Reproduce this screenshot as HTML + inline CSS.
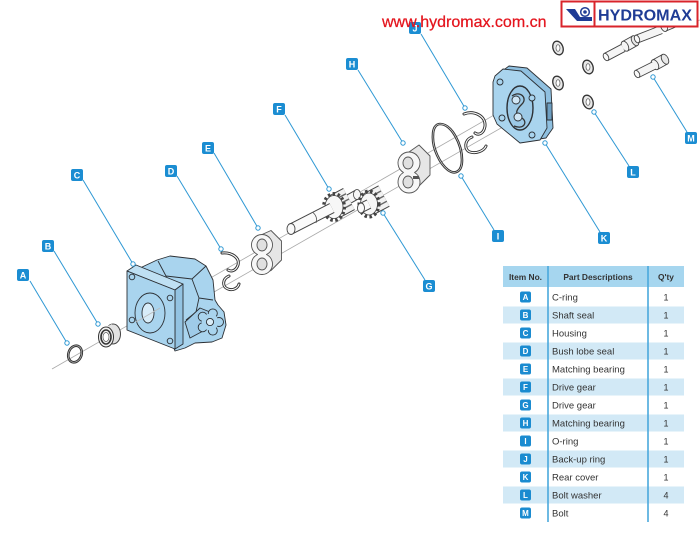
<!DOCTYPE html>
<html><head><meta charset="utf-8"><style>
html,body{margin:0;padding:0;background:#fff;}
svg{display:block;}
text{font-family:"Liberation Sans",Arial,sans-serif;}
</style></head><body>
<svg width="700" height="534" viewBox="0 0 700 534" xmlns="http://www.w3.org/2000/svg">
<rect width="700" height="534" fill="#fff"/>

<!-- axis lines -->
<g stroke="#a9a9a9" stroke-width="0.8" fill="none">
<line x1="52" y1="369" x2="522" y2="99"/>
<line x1="200" y1="300" x2="522" y2="116"/>
</g>

<!-- A C-ring -->
<ellipse cx="75" cy="354" rx="6.5" ry="8.5" transform="rotate(20 75 354)" fill="none" stroke="#333" stroke-width="2.6"/>
<ellipse cx="75" cy="354" rx="6.5" ry="8.5" transform="rotate(20 75 354)" fill="none" stroke="#bbb" stroke-width="0.7"/>

<!-- B shaft seal -->
<ellipse cx="113" cy="334" rx="7.5" ry="10" fill="#e2e2e2" stroke="#444" stroke-width="1"/>
<polygon points="106,327 112,324 112,344 106,347" fill="#e2e2e2"/>
<ellipse cx="106" cy="337" rx="7.5" ry="10" fill="#f2f2f2" stroke="#333" stroke-width="1"/>
<ellipse cx="106" cy="337" rx="5" ry="7" fill="none" stroke="#333" stroke-width="1.6"/>
<ellipse cx="106" cy="337" rx="3" ry="4.5" fill="#fff" stroke="#555" stroke-width="0.7"/>

<!-- C housing body -->
<g stroke="#2c3035" stroke-width="0.9" stroke-linejoin="round">
<polygon points="140,268 157,260 170,256 195,259 206,266 213,280 215,300 218,305 224,312 226,325 222,338 212,342 195,343 185,348 175,351" fill="#a9d4ee"/>
<polyline points="158,261 166,276 192,279 206,266" fill="none"/>
<polyline points="192,279 199,298 213,300" fill="none"/>
<polyline points="166,276 172,290" fill="none"/>
<polyline points="199,298 196,312 186,320" fill="none"/>
<polygon points="185,322 200,308 210,312 205,330 190,338" fill="#9fcbe8"/>
<circle cx="219" cy="322" r="4.5" fill="#a9d4ee"/>
<circle cx="212.8" cy="330.6" r="4.5" fill="#a9d4ee"/>
<circle cx="202.7" cy="327.3" r="4.5" fill="#a9d4ee"/>
<circle cx="202.7" cy="316.7" r="4.5" fill="#a9d4ee"/>
<circle cx="212.8" cy="313.4" r="4.5" fill="#a9d4ee"/>
<circle cx="210" cy="322" r="8.3" fill="#a9d4ee" stroke="none"/>
<circle cx="210" cy="322" r="3.6" fill="#d8ecf8"/>
<polygon points="127,271 136,265 183,284 175,290" fill="#bfe0f3"/>
<polygon points="175,290 183,284 183,344 175,349" fill="#93c3e2"/>
<polygon points="127,271 175,290 175,349 127,330" fill="#a9d4ee"/>
<circle cx="132" cy="277" r="2.8" fill="#a9d4ee"/>
<circle cx="170" cy="298" r="2.8" fill="#a9d4ee"/>
<circle cx="132" cy="320" r="2.8" fill="#a9d4ee"/>
<circle cx="170" cy="341" r="2.8" fill="#a9d4ee"/>
<ellipse cx="150" cy="313" rx="15" ry="20" fill="#a9d4ee"/>
<ellipse cx="148" cy="313" rx="6" ry="10" fill="#d8ecf8"/>
</g>
<line x1="136" y1="322" x2="160" y2="308" stroke="#bbb" stroke-width="0.8"/>

<!-- D bush lobe seal -->
<g fill="none" stroke-linecap="round">
<path d="M222,253 C232,252 240,258 238,265 C236,271 231,272 228,270" stroke="#333" stroke-width="3"/>
<path d="M229,276 C222,279 222,287 228,289 C233,291 238,288 239,284" stroke="#333" stroke-width="3"/>
<path d="M222,253 C232,252 240,258 238,265 C236,271 231,272 228,270" stroke="#fff" stroke-width="1.1"/>
<path d="M229,276 C222,279 222,287 228,289 C233,291 238,288 239,284" stroke="#fff" stroke-width="1.1"/>
</g>

<!-- E matching bearing -->
<g stroke="#555" stroke-width="0.9" stroke-linejoin="round">
<polygon points="262,234.5 271,230.5 281.5,241 281.5,260 271,270.5 262,274.5" fill="#e6e6e6"/>
<path d="M257.53,254.5 A10.5,10.5 0 1,1 266.47,254.5 A10.5,10.5 0 1,1 257.53,254.5 Z" fill="#f7f7f7"/>
<ellipse cx="262" cy="245" rx="5" ry="6" fill="#e0e0e0"/>
<ellipse cx="262" cy="264" rx="5" ry="6" fill="#e0e0e0"/>
</g>

<!-- F drive gear -->
<line x1="349" y1="199" x2="357" y2="194.5" stroke="#444" stroke-width="10"/>
<line x1="349" y1="199" x2="357" y2="194.5" stroke="#f6f6f6" stroke-width="8"/>
<ellipse cx="357" cy="194.5" rx="3.5" ry="5" fill="#f6f6f6" stroke="#444" stroke-width="0.8"/>
<line x1="334" y1="207" x2="349" y2="199" stroke="#444" stroke-width="25"/>
<line x1="334" y1="207" x2="349" y2="199" stroke="#f2f2f2" stroke-width="23"/>
<g stroke="#666" stroke-width="1.4">
<line x1="331" y1="201.7" x2="346" y2="193.7"/>
<line x1="334" y1="207" x2="349" y2="199"/>
<line x1="336.8" y1="212.3" x2="351.8" y2="204.3"/>
</g>
<ellipse cx="334" cy="207" rx="10" ry="13" fill="none" stroke="#444" stroke-width="4" stroke-dasharray="2.4 2.4"/>
<ellipse cx="334" cy="207" rx="9" ry="11.5" fill="#f7f7f7" stroke="#444" stroke-width="0.8"/>
<line x1="291" y1="229" x2="332" y2="208" stroke="#444" stroke-width="11"/>
<line x1="291" y1="229" x2="332" y2="208" stroke="#fafafa" stroke-width="9"/>
<path d="M313,212.5 Q318,217 316,223" fill="none" stroke="#555" stroke-width="0.8"/>
<ellipse cx="291" cy="229" rx="4" ry="5.5" fill="#fafafa" stroke="#444" stroke-width="0.9"/>

<!-- G drive gear -->
<line x1="369" y1="204" x2="384" y2="196" stroke="#444" stroke-width="24"/>
<line x1="369" y1="204" x2="384" y2="196" stroke="#f2f2f2" stroke-width="22"/>
<g stroke="#666" stroke-width="1.4">
<line x1="366" y1="199" x2="381" y2="191"/>
<line x1="369" y1="204" x2="384" y2="196"/>
<line x1="371.8" y1="209.3" x2="386.8" y2="201.3"/>
</g>
<ellipse cx="369" cy="204" rx="9.5" ry="12.5" fill="none" stroke="#444" stroke-width="4" stroke-dasharray="2.4 2.4"/>
<ellipse cx="369" cy="204" rx="8.5" ry="11" fill="#f7f7f7" stroke="#444" stroke-width="0.8"/>
<line x1="361" y1="208" x2="369" y2="204" stroke="#444" stroke-width="10"/>
<line x1="361" y1="208" x2="369" y2="204" stroke="#fafafa" stroke-width="8"/>
<ellipse cx="361" cy="208" rx="3.5" ry="5" fill="#fafafa" stroke="#444" stroke-width="0.9"/>

<!-- H matching bearing -->
<g stroke="#555" stroke-width="0.9" stroke-linejoin="round">
<polygon points="409,152 419,145 430,156 430,175 419,186 409,193" fill="#e6e6e6"/>
<path d="M403.45,172.5 A11,11 0 1,1 414.55,172.5 A11,11 0 1,1 403.45,172.5 Z" fill="#f7f7f7"/>
<ellipse cx="408" cy="163" rx="5" ry="6" fill="#e0e0e0"/>
<ellipse cx="408" cy="182" rx="5" ry="6" fill="#e0e0e0"/>
</g>
<rect x="413" y="176" width="6" height="3" fill="#555"/>

<!-- I O-ring -->
<path d="M440,124 C452,124 462,145 462,160 C462,172 455,175 448,170 C440,164 432,148 433,135 C433,128 436,124 440,124 Z" fill="none" stroke="#333" stroke-width="2.6"/>
<path d="M440,124 C452,124 462,145 462,160 C462,172 455,175 448,170 C440,164 432,148 433,135 C433,128 436,124 440,124 Z" fill="none" stroke="#ddd" stroke-width="0.7"/>

<!-- J back-up ring -->
<g fill="none" stroke-linecap="round">
<path d="M464,114 C474,110 486,116 485,126 C484,133 479,136 475,133" stroke="#333" stroke-width="3"/>
<path d="M472,137 C464,140 464,150 470,152 C476,154 484,151 486,146" stroke="#333" stroke-width="3"/>
<path d="M464,114 C474,110 486,116 485,126 C484,133 479,136 475,133" stroke="#fff" stroke-width="1.1"/>
<path d="M472,137 C464,140 464,150 470,152 C476,154 484,151 486,146" stroke="#fff" stroke-width="1.1"/>
</g>

<!-- K rear cover -->
<g stroke="#2c3035" stroke-width="0.9" stroke-linejoin="round">
<polygon points="501,72 509,66 527,68 551,89 553,128 546,138 526,141 503,121 499,112 499,79" fill="#8fc0e0"/>
<rect x="547" y="103" width="5" height="17" fill="#6d9fc2"/>
<polygon points="495,76 503,69 521,71 545,92 547,128 540,140 520,143 497,124 493,115 493,82" fill="#a9d4ee"/>
<ellipse cx="520" cy="108" rx="13" ry="22" fill="#9cc9e6" stroke-width="1.4"/>
<path d="M512,96 C520,90 528,98 522,104 C516,110 514,114 522,118 C528,122 524,130 514,126" fill="none" stroke="#333" stroke-width="1.3"/>
<circle cx="516" cy="100" r="4" fill="#cfe6f5"/>
<circle cx="518" cy="117" r="4" fill="#cfe6f5"/>
<circle cx="500" cy="82" r="3" fill="#a9d4ee"/>
<circle cx="502" cy="118" r="3" fill="#a9d4ee"/>
<circle cx="532" cy="135" r="3" fill="#a9d4ee"/>
<circle cx="532" cy="98" r="3" fill="#a9d4ee"/>
</g>

<!-- L washers -->
<g stroke="#333" stroke-width="1.3">
<ellipse cx="558" cy="48" rx="5" ry="7" transform="rotate(-20 558 48)" fill="#e8e8e8"/>
<ellipse cx="588" cy="67" rx="5" ry="7" transform="rotate(-20 588 67)" fill="#e8e8e8"/>
<ellipse cx="558" cy="83" rx="5" ry="7" transform="rotate(-20 558 83)" fill="#e8e8e8"/>
<ellipse cx="588" cy="102" rx="5" ry="7" transform="rotate(-20 588 102)" fill="#e8e8e8"/>
</g>
<g fill="#fff" stroke="#555" stroke-width="0.7">
<ellipse cx="558" cy="48" rx="2" ry="3.3"/>
<ellipse cx="588" cy="67" rx="2" ry="3.3"/>
<ellipse cx="558" cy="83" rx="2" ry="3.3"/>
<ellipse cx="588" cy="102" rx="2" ry="3.3"/>
</g>

<!-- M bolts (cylinders) -->
<g stroke="#444" stroke-width="0.9">
<!-- bolt 1 -->
<polygon points="622.5,41.5 632.5,36 637.5,45.5 627.5,51" fill="#f5f5f5"/>
<ellipse cx="635" cy="40.7" rx="3.2" ry="5.4" transform="rotate(-28 635 40.7)" fill="#e8e8e8"/>
<polygon points="604.2,53.5 621.2,44.5 624.8,51.5 607.8,60.5" fill="#f5f5f5"/>
<ellipse cx="625" cy="46.2" rx="3.2" ry="5.4" transform="rotate(-28 625 46.2)" fill="#f5f5f5"/>
<polygon points="604.2,53.5 621.2,44.5 624.8,51.5 607.8,60.5" fill="#f5f5f5" stroke="none"/>
<line x1="604.2" y1="53.5" x2="621.2" y2="44.5"/>
<line x1="607.8" y1="60.5" x2="624.8" y2="51.5"/>
<ellipse cx="606" cy="57" rx="2.4" ry="4" transform="rotate(-28 606 57)" fill="#fafafa"/>
<!-- bolt 2 -->
<polygon points="652.5,60 662.5,54.5 667.5,64 657.5,69.5" fill="#f5f5f5"/>
<ellipse cx="665" cy="59.2" rx="3.2" ry="5.4" transform="rotate(-28 665 59.2)" fill="#e8e8e8"/>
<ellipse cx="655" cy="64.7" rx="3.2" ry="5.4" transform="rotate(-28 655 64.7)" fill="#f5f5f5"/>
<polygon points="635.2,70.5 652.2,62 655.8,69 638.8,77.5" fill="#f5f5f5" stroke="none"/>
<line x1="635.2" y1="70.5" x2="652.2" y2="62"/>
<line x1="638.8" y1="77.5" x2="655.8" y2="69"/>
<ellipse cx="637" cy="74" rx="2.4" ry="4" transform="rotate(-28 637 74)" fill="#fafafa"/>
<!-- bolt 3 (partial) -->
<polygon points="662,22 674,17 678,26 666,31" fill="#f5f5f5"/>
<ellipse cx="664" cy="26.5" rx="3.2" ry="5.2" transform="rotate(-22 664 26.5)" fill="#f5f5f5"/>
<polygon points="635.5,35.3 659.5,26 662.5,33.5 638.5,42.7" fill="#f5f5f5" stroke="none"/>
<line x1="635.5" y1="35.3" x2="659.5" y2="26"/>
<line x1="638.5" y1="42.7" x2="662.5" y2="33.5"/>
<ellipse cx="637" cy="39" rx="2.4" ry="4" transform="rotate(-22 637 39)" fill="#fafafa"/>
</g>
<line x1="676" y1="27" x2="700" y2="20" stroke="#aaa" stroke-width="0.8"/>

<!-- leader lines -->
<g stroke="#2e98d4" stroke-width="1" fill="none">
<line x1="30" y1="281" x2="67" y2="343"/>
<line x1="54" y1="251" x2="98" y2="324"/>
<line x1="83" y1="180" x2="133" y2="264"/>
<line x1="177" y1="176" x2="221" y2="249"/>
<line x1="214" y1="153" x2="258" y2="228"/>
<line x1="285" y1="115" x2="329" y2="189"/>
<line x1="383" y1="213" x2="425" y2="280"/>
<line x1="358" y1="70" x2="403" y2="143"/>
<line x1="461" y1="176" x2="494" y2="230"/>
<line x1="421" y1="34" x2="465" y2="108"/>
<line x1="545" y1="143" x2="600" y2="232"/>
<line x1="594" y1="112" x2="629" y2="166"/>
<line x1="653" y1="77" x2="687" y2="132"/>
</g>
<g fill="#fff" stroke="#2e98d4" stroke-width="1">
<circle cx="67" cy="343" r="2.2"/>
<circle cx="98" cy="324" r="2.2"/>
<circle cx="133" cy="264" r="2.2"/>
<circle cx="221" cy="249" r="2.2"/>
<circle cx="258" cy="228" r="2.2"/>
<circle cx="329" cy="189" r="2.2"/>
<circle cx="383" cy="213" r="2.2"/>
<circle cx="403" cy="143" r="2.2"/>
<circle cx="461" cy="176" r="2.2"/>
<circle cx="465" cy="108" r="2.2"/>
<circle cx="545" cy="143" r="2.2"/>
<circle cx="594" cy="112" r="2.2"/>
<circle cx="653" cy="77" r="2.2"/>
</g>

<!-- badges -->
<g fill="#1b8dd2">
<rect x="17" y="269" width="12" height="12" rx="2"/>
<rect x="42" y="240" width="12" height="12" rx="2"/>
<rect x="71" y="169" width="12" height="12" rx="2"/>
<rect x="165" y="165" width="12" height="12" rx="2"/>
<rect x="202" y="142" width="12" height="12" rx="2"/>
<rect x="273" y="103" width="12" height="12" rx="2"/>
<rect x="423" y="280" width="12" height="12" rx="2"/>
<rect x="346" y="58" width="12" height="12" rx="2"/>
<rect x="492" y="230" width="12" height="12" rx="2"/>
<rect x="409" y="22" width="12" height="12" rx="2"/>
<rect x="598" y="232" width="12" height="12" rx="2"/>
<rect x="627" y="166" width="12" height="12" rx="2"/>
<rect x="685" y="132" width="12" height="12" rx="2"/>
</g>
<g fill="#fff" font-size="9" font-weight="bold" text-anchor="middle">
<text x="23" y="278.3">A</text>
<text x="48" y="249.3">B</text>
<text x="77" y="178.3">C</text>
<text x="171" y="174.3">D</text>
<text x="208" y="151.3">E</text>
<text x="279" y="112.3">F</text>
<text x="429" y="289.3">G</text>
<text x="352" y="67.3">H</text>
<text x="498" y="239.3">I</text>
<text x="415" y="31.3">J</text>
<text x="604" y="241.3">K</text>
<text x="633" y="175.3">L</text>
<text x="691" y="141.3">M</text>
</g>

<!-- url -->
<text x="382" y="27" font-size="16" fill="#e4141d" stroke="#e4141d" stroke-width="0.25">www.hydromax.com.cn</text>

<!-- logo -->
<rect x="561.5" y="1.5" width="136" height="25" fill="#fff" stroke="#d9242b" stroke-width="2"/>
<line x1="594.5" y1="1.5" x2="594.5" y2="26.5" stroke="#d9242b" stroke-width="2"/>
<polygon points="566,9 575,9 580,17 592,17 592,21 577,21" fill="#1f3c95"/>
<circle cx="585" cy="12" r="4.3" fill="#fff" stroke="#1f3c95" stroke-width="1.5"/>
<circle cx="585" cy="12" r="1.8" fill="#1f3c95"/>
<text x="598" y="20.5" font-size="16" font-weight="bold" fill="#1f3c95" textLength="94" lengthAdjust="spacingAndGlyphs">HYDROMAX</text>

<!-- table -->
<rect x="503" y="266" width="181" height="21" fill="#a6d6ef"/>
<g fill="#d2e9f6">
<rect x="503" y="306.5" width="181" height="17"/>
<rect x="503" y="342.5" width="181" height="17"/>
<rect x="503" y="378.5" width="181" height="17"/>
<rect x="503" y="414.5" width="181" height="17"/>
<rect x="503" y="450.5" width="181" height="17"/>
<rect x="503" y="486.5" width="181" height="17"/>
</g>
<line x1="548" y1="266" x2="548" y2="522" stroke="#4aa8dc" stroke-width="1.6"/>
<line x1="648" y1="266" x2="648" y2="522" stroke="#4aa8dc" stroke-width="1.6"/>
<g font-weight="bold" fill="#333" font-size="8.4" text-anchor="middle">
<text x="525.5" y="280">Item No.</text>
<text x="598" y="280">Part Descriptions</text>
<text x="666" y="280">Q'ty</text>
</g>
<g fill="#1a8bd0">
<rect x="520" y="291.5" width="11" height="11" rx="2"/>
<rect x="520" y="309.5" width="11" height="11" rx="2"/>
<rect x="520" y="327.5" width="11" height="11" rx="2"/>
<rect x="520" y="345.5" width="11" height="11" rx="2"/>
<rect x="520" y="363.5" width="11" height="11" rx="2"/>
<rect x="520" y="381.5" width="11" height="11" rx="2"/>
<rect x="520" y="399.5" width="11" height="11" rx="2"/>
<rect x="520" y="417.5" width="11" height="11" rx="2"/>
<rect x="520" y="435.5" width="11" height="11" rx="2"/>
<rect x="520" y="453.5" width="11" height="11" rx="2"/>
<rect x="520" y="471.5" width="11" height="11" rx="2"/>
<rect x="520" y="489.5" width="11" height="11" rx="2"/>
<rect x="520" y="507.5" width="11" height="11" rx="2"/>
</g>
<g fill="#fff" font-size="8" font-weight="bold" text-anchor="middle">
<text x="525.5" y="300">A</text>
<text x="525.5" y="318">B</text>
<text x="525.5" y="336">C</text>
<text x="525.5" y="354">D</text>
<text x="525.5" y="372">E</text>
<text x="525.5" y="390">F</text>
<text x="525.5" y="408">G</text>
<text x="525.5" y="426">H</text>
<text x="525.5" y="444">I</text>
<text x="525.5" y="462">J</text>
<text x="525.5" y="480">K</text>
<text x="525.5" y="498">L</text>
<text x="525.5" y="516">M</text>
</g>
<g fill="#333" font-size="9.5">
<text x="552" y="300.4">C-ring</text>
<text x="552" y="318.4">Shaft seal</text>
<text x="552" y="336.4">Housing</text>
<text x="552" y="354.4">Bush lobe seal</text>
<text x="552" y="372.4">Matching bearing</text>
<text x="552" y="390.4">Drive gear</text>
<text x="552" y="408.4">Drive gear</text>
<text x="552" y="426.4">Matching bearing</text>
<text x="552" y="444.4">O-ring</text>
<text x="552" y="462.4">Back-up ring</text>
<text x="552" y="480.4">Rear cover</text>
<text x="552" y="498.4">Bolt washer</text>
<text x="552" y="516.4">Bolt</text>
</g>
<g fill="#333" font-size="9" text-anchor="middle">
<text x="666" y="300.4">1</text>
<text x="666" y="318.4">1</text>
<text x="666" y="336.4">1</text>
<text x="666" y="354.4">1</text>
<text x="666" y="372.4">1</text>
<text x="666" y="390.4">1</text>
<text x="666" y="408.4">1</text>
<text x="666" y="426.4">1</text>
<text x="666" y="444.4">1</text>
<text x="666" y="462.4">1</text>
<text x="666" y="480.4">1</text>
<text x="666" y="498.4">4</text>
<text x="666" y="516.4">4</text>
</g>
</svg>
</body></html>
